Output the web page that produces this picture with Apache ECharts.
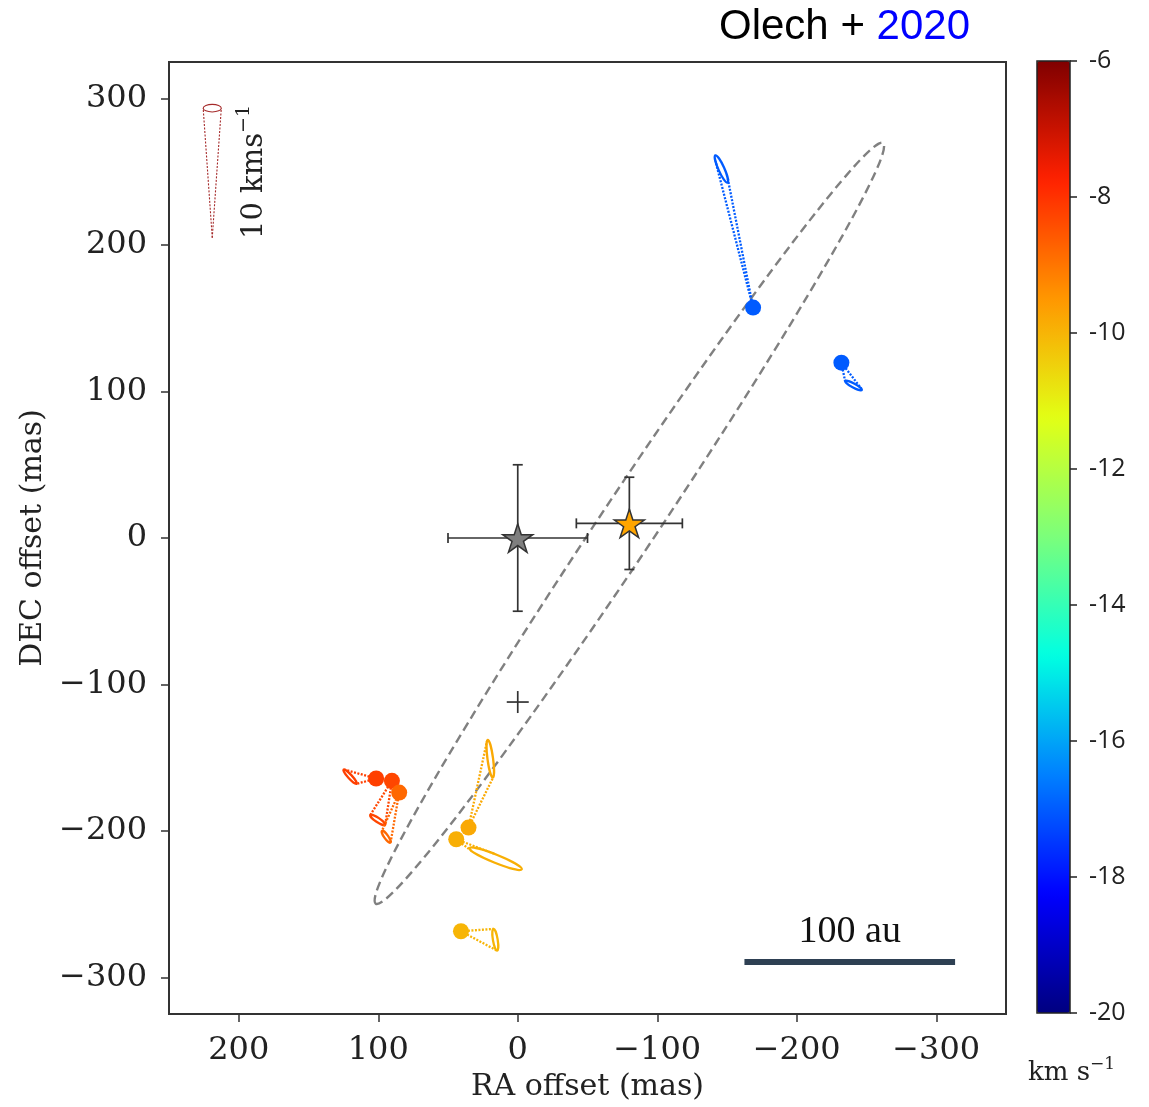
<!DOCTYPE html>
<html>
<head>
<meta charset="utf-8">
<title>Olech + 2020</title>
<script src="https://cdn.jsdelivr.net/npm/echarts@6.0.0/dist/echarts.min.js"></script>
<style>
  html, body { margin: 0; padding: 0; background: #fff; }
  #chart { width: 1149px; height: 1107px; }
</style>
</head>
<body>
<div id="chart"></div>
<script>
// maser spots: offset (mas) and LSR velocity (km/s)
var maserRA   = [101.5, 90.2, 85.0, 35.3, 44.1, 40.7, -168.7, -232.0];
var maserDEC  = [-164.2, -165.8, -173.8, -197.7, -205.7, -268.5, 157.3, 119.7];
var maserVlsr = [-8.2, -8.3, -8.8, -9.8, -9.9, -10.0, -17.0, -17.0];

// end of each 3D velocity cone: base centre (mas), base semi-axes (mas), PA (deg)
var coneRA    = [120.2, 100.4, 94.3, 19.7, 15.8, 16.1, -146.0, -240.7];
var coneDEC   = [-163.0, -192.5, -204.0, -150.7, -219.0, -274.3, 252.0, 104.1];
var coneMajor = [6.7, 6.3, 5.0, 13.0, 20.0, 7.5, 10.2, 6.7];
var coneMinor = [1.4, 1.5, 1.4, 2.0, 2.8, 1.7, 2.1, 1.4];
var conePA    = [44, 58, 37, 8, 69, 10, 25, 63];

// 10 km/s key cone
var keyApex = [219, 205];
var keyBase = [219, 293.5];
var keyAxes = [6.5, 2.6];

// stars with errors (mas)
var starRA     = [0, -80];
var starDEC    = [0, 10];
var starRAErr  = [50, 38];
var starDECErr = [50, 31.5];

var plusPos = [0, -112];

// fitted disk: centre, semi-axes, PA
var diskCentre = [-80, 10];
var diskAxes   = [317, 20];
var diskPA     = -35;

// 100 au scale bar
var scaleBarRA  = [-162.5, -313.5];
var scaleBarDEC = -289.5;

var raTicks  = [200, 100, 0, -100, -200, -300];
var decTicks = [300, 200, 100, 0, -100, -200, -300];
var jet = ['#000080', '#0000ff', '#0080ff', '#00ffe2', '#7bff7b', '#e2ff15', '#ff9700', '#ff2100', '#800000'];

var serif = 'DejaVu Serif';
function minus(v) { return String(v).replace('-', '\u2212'); }

function ellipseGeom(api, ra, dec, a, b, paDeg) {
    var pa = paDeg * Math.PI / 180;
    var c = api.coord([ra, dec]);
    var pMaj = api.coord([ra + a * Math.sin(pa), dec + a * Math.cos(pa)]);
    var pMin = api.coord([ra + b * Math.cos(pa), dec - b * Math.sin(pa)]);
    return {
        c: c,
        rx: Math.hypot(pMaj[0] - c[0], pMaj[1] - c[1]),
        ry: Math.hypot(pMin[0] - c[0], pMin[1] - c[1]),
        ang: Math.atan2(pMaj[1] - c[1], pMaj[0] - c[0])
    };
}

function coneShape(api, apexVal, baseVal, a, b, pa, color, width) {
    var apex = api.coord(apexVal);
    var g = ellipseGeom(api, baseVal[0], baseVal[1], a, b, pa);
    var children = [{
        type: 'ellipse', x: g.c[0], y: g.c[1], rotation: -g.ang,
        shape: { cx: 0, cy: 0, rx: g.rx, ry: g.ry },
        style: { fill: 'none', stroke: color, lineWidth: width }
    }];
    var cs = Math.cos(g.ang), sn = Math.sin(g.ang);
    var dx = apex[0] - g.c[0], dy = apex[1] - g.c[1];
    var lx = (dx * cs + dy * sn) / g.rx, ly = (-dx * sn + dy * cs) / g.ry;
    var d = Math.hypot(lx, ly);
    if (d > 1) {
        var base = Math.atan2(ly, lx), spread = Math.acos(1 / d);
        [base - spread, base + spread].forEach(function (t) {
            var ux = Math.cos(t) * g.rx, uy = Math.sin(t) * g.ry;
            children.push({
                type: 'line',
                shape: { x1: apex[0], y1: apex[1], x2: g.c[0] + ux * cs - uy * sn, y2: g.c[1] + ux * sn + uy * cs },
                style: { stroke: color, lineWidth: width, lineDash: [2, 1.5] }
            });
        });
    }
    return { type: 'group', children: children };
}

var maserData = maserRA.map(function (ra, i) { return [ra, maserDEC[i], maserVlsr[i]]; });
var coneData = maserRA.map(function (ra, i) {
    return [ra, maserDEC[i], maserVlsr[i], coneRA[i], coneDEC[i], coneMajor[i], coneMinor[i], conePA[i]];
});
var starData = starRA.map(function (ra, i) { return [ra, starDEC[i], starRAErr[i], starDECErr[i]]; });

var starPath = 'path://M50 0 L61.23 34.55 L97.55 34.55 L68.17 55.9 L79.39 90.45 L50 69.1 L20.61 90.45 L31.83 55.9 L2.45 34.55 L38.77 34.55 Z';

var chart = echarts.init(document.getElementById('chart'));

var option = {
    backgroundColor: '#fff',
    animation: false,
    title: {
        text: '{a|Olech + }{b|2020}',
        left: 714,
        top: 1,
        textStyle: {
            rich: {
                a: { fontFamily: 'Liberation Sans', fontSize: 42, fontWeight: 'normal', color: '#000' },
                b: { fontFamily: 'Liberation Sans', fontSize: 42, fontWeight: 'normal', color: '#0000ff' }
            }
        }
    },
    grid: [
        { left: 169, width: 837, top: 62, height: 952, show: true, borderColor: '#333', borderWidth: 2, backgroundColor: 'transparent' },
        { left: 1037, width: 33, top: 61, height: 952, show: true, borderColor: '#222', borderWidth: 1.5, backgroundColor: 'transparent', z: 10 }
    ],
    xAxis: [{
        type: 'value', gridIndex: 0, inverse: true, min: -350, max: 250,
        name: 'RA offset (mas)', nameLocation: 'middle', nameGap: 58,
        nameTextStyle: { fontFamily: serif, fontSize: 30, color: '#222' },
        axisLine: { show: false, onZero: false },
        axisTick: { show: true, inside: false, length: 8, customValues: raTicks, lineStyle: { color: '#333', width: 1.5 } },
        axisLabel: { customValues: raTicks, formatter: minus, margin: 21, fontFamily: serif, fontSize: 32, color: '#222' },
        splitLine: { show: false }
    }, {
        type: 'value', gridIndex: 1, min: 0, max: 1, show: false
    }],
    yAxis: [{
        type: 'value', gridIndex: 0, min: -325, max: 325,
        name: 'DEC offset (mas)', nameLocation: 'middle', nameGap: 118,
        nameTextStyle: { fontFamily: serif, fontSize: 30, color: '#222' },
        axisLine: { show: false, onZero: false },
        axisTick: { show: true, inside: false, length: 8, customValues: decTicks, lineStyle: { color: '#333', width: 1.5 } },
        axisLabel: { customValues: decTicks, formatter: minus, margin: 22, fontFamily: serif, fontSize: 32, color: '#222' },
        splitLine: { show: false }
    }, {
        type: 'value', gridIndex: 1, position: 'right', min: -20, max: -6, interval: 2,
        axisLine: { show: false, onZero: false },
        axisTick: { show: true, inside: false, length: 7, lineStyle: { color: '#222', width: 1.5 } },
        axisLabel: { margin: 19, fontFamily: 'Open Sans', fontSize: 25, color: '#222' },
        splitLine: { show: false }
    }],
    visualMap: {
        type: 'continuous', min: -20, max: -6, dimension: 2, seriesIndex: [1, 3],
        left: 1037, top: 61, itemWidth: 33, itemHeight: 952, padding: 0,
        calculable: false, text: null, showLabel: false, hoverLink: false,
        inRange: { color: jet }
    },
    graphic: [
        {
            type: 'text', x: 252, y: 172, rotation: Math.PI / 2,
            style: {
                text: '{n|10 kms}{s|\u22121}', align: 'center', verticalAlign: 'middle',
                rich: {
                    n: { fontFamily: serif, fontSize: 29, fill: '#222', verticalAlign: 'bottom' },
                    s: { fontFamily: serif, fontSize: 19, fill: '#222', verticalAlign: 'top', padding: [0, 0, 15, 0] }
                }
            }
        },
        {
            type: 'text', x: 1028, y: 1056,
            style: {
                text: '{n|km s}{s|\u22121}',
                rich: {
                    n: { fontFamily: serif, fontSize: 26, fill: '#222', verticalAlign: 'bottom' },
                    s: { fontFamily: serif, fontSize: 17, fill: '#222', verticalAlign: 'top', padding: [0, 0, 13, 0] }
                }
            }
        }
    ],
    series: [
        {
            type: 'custom', name: 'disk', xAxisIndex: 0, yAxisIndex: 0,
            data: [[diskCentre[0], diskCentre[1], diskAxes[0], diskAxes[1], diskPA]],
            encode: { x: 0, y: 1 },
            renderItem: function (params, api) {
                var g = ellipseGeom(api, api.value(0), api.value(1), api.value(2), api.value(3), api.value(4));
                return {
                    type: 'ellipse', x: g.c[0], y: g.c[1], rotation: -g.ang,
                    shape: { cx: 0, cy: 0, rx: g.rx, ry: g.ry },
                    style: { fill: 'none', stroke: '#808080', lineWidth: 2.4, lineDash: [9, 5] }
                };
            }
        },
        {
            type: 'custom', name: 'cones', xAxisIndex: 0, yAxisIndex: 0,
            data: coneData,
            dimensions: ['ra', 'dec', 'v', 'cra', 'cdec', 'a', 'b', 'pa'],
            encode: { x: 0, y: 1 },
            renderItem: function (params, api) {
                return coneShape(api, [api.value(0), api.value(1)], [api.value(3), api.value(4)],
                    api.value(5), api.value(6), api.value(7), api.visual('color'), 2.3);
            }
        },
        {
            type: 'custom', name: 'key', xAxisIndex: 0, yAxisIndex: 0,
            data: [[keyApex[0], keyApex[1], keyBase[0], keyBase[1], keyAxes[0], keyAxes[1]]],
            encode: { x: 0, y: 1 },
            renderItem: function (params, api) {
                return coneShape(api, [api.value(0), api.value(1)], [api.value(2), api.value(3)],
                    api.value(4), api.value(5), 90, '#a52a2a', 1.1);
            }
        },
        {
            type: 'scatter', name: 'masers', xAxisIndex: 0, yAxisIndex: 0,
            data: maserData, symbol: 'circle', symbolSize: 16,
            itemStyle: { opacity: 1 }
        },
        {
            type: 'custom', name: 'errors', xAxisIndex: 0, yAxisIndex: 0,
            data: starData, encode: { x: 0, y: 1 },
            renderItem: function (params, api) {
                var ra = api.value(0), dec = api.value(1), ex = api.value(2), ey = api.value(3);
                var l = api.coord([ra + ex, dec]), r = api.coord([ra - ex, dec]);
                var t = api.coord([ra, dec + ey]), b = api.coord([ra, dec - ey]);
                var cap = 5, st = { stroke: '#333', lineWidth: 1.7 };
                return {
                    type: 'group', children: [
                        { type: 'line', shape: { x1: l[0], y1: l[1], x2: r[0], y2: r[1] }, style: st },
                        { type: 'line', shape: { x1: t[0], y1: t[1], x2: b[0], y2: b[1] }, style: st },
                        { type: 'line', shape: { x1: l[0], y1: l[1] - cap, x2: l[0], y2: l[1] + cap }, style: st },
                        { type: 'line', shape: { x1: r[0], y1: r[1] - cap, x2: r[0], y2: r[1] + cap }, style: st },
                        { type: 'line', shape: { x1: t[0] - cap, y1: t[1], x2: t[0] + cap, y2: t[1] }, style: st },
                        { type: 'line', shape: { x1: b[0] - cap, y1: b[1], x2: b[0] + cap, y2: b[1] }, style: st }
                    ]
                };
            }
        },
        {
            type: 'scatter', name: 'stars', xAxisIndex: 0, yAxisIndex: 0,
            symbol: starPath, symbolSize: 30, symbolKeepAspect: true,
            data: [
                { value: [starRA[0], starDEC[0]], itemStyle: { color: '#7f7f7f' } },
                { value: [starRA[1], starDEC[1]], itemStyle: { color: '#ffa500' } }
            ],
            itemStyle: { borderColor: '#333', borderWidth: 1.5, opacity: 1 },
            z: 5
        },
        {
            type: 'custom', name: 'plus', xAxisIndex: 0, yAxisIndex: 0,
            data: [plusPos], encode: { x: 0, y: 1 },
            renderItem: function (params, api) {
                var p = api.coord([api.value(0), api.value(1)]), h = 11, st = { stroke: '#333', lineWidth: 1.7 };
                return {
                    type: 'group', children: [
                        { type: 'line', shape: { x1: p[0] - h, y1: p[1], x2: p[0] + h, y2: p[1] }, style: st },
                        { type: 'line', shape: { x1: p[0], y1: p[1] - h, x2: p[0], y2: p[1] + h }, style: st }
                    ]
                };
            }
        },
        {
            type: 'custom', name: 'scalebar', xAxisIndex: 0, yAxisIndex: 0,
            data: [[scaleBarRA[0], scaleBarDEC, scaleBarRA[1]]], encode: { x: 0, y: 1 },
            renderItem: function (params, api) {
                var a = api.coord([api.value(0), api.value(1)]), b = api.coord([api.value(2), api.value(1)]);
                return {
                    type: 'group', children: [
                        { type: 'line', shape: { x1: a[0], y1: a[1], x2: b[0], y2: b[1] }, style: { stroke: '#2e4053', lineWidth: 6 } },
                        {
                            type: 'text', x: (a[0] + b[0]) / 2, y: a[1] - 11,
                            style: { text: '100 au', fontFamily: 'Liberation Serif', fontSize: 38, fill: '#111', align: 'center', verticalAlign: 'bottom' }
                        }
                    ]
                };
            }
        }
    ]
};

chart.setOption(option);
window.addEventListener('resize', function () { chart.resize(); });
</script>
</body>
</html>
